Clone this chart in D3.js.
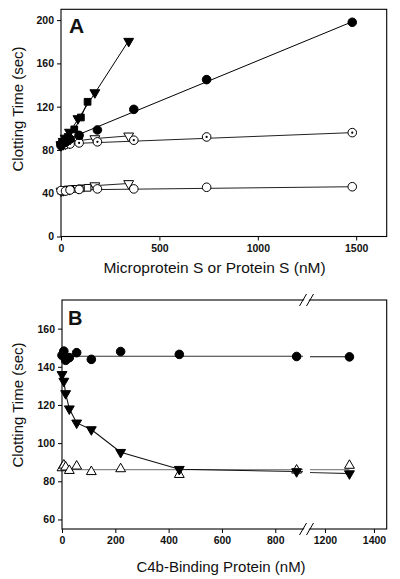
<!DOCTYPE html>
<html><head><meta charset="utf-8">
<script src="https://cdn.jsdelivr.net/npm/d3@7"></script>
<style>body{margin:0;background:#fff} svg{display:block} text{font-family:"Liberation Sans",Arial,sans-serif;fill:#111}</style>
</head><body><svg id="c" width="400" height="579"></svg>
<script>
// ---------- Panel A data ----------
const concPS  = [0, 23, 46, 92, 185, 370, 740, 1480];
const concMPS = [0, 10.75, 21.5, 43, 86, 172, 344];
const concSq  = [17, 34, 67.5, 101, 135];
const aFilledCircle = [84, 87, 90, 93.5, 98.5, 117.5, 145, 198];
const aDotCircle    = [85.5, 85, 85.5, 86.5, 87.5, 89, 92, 96];
const aOpenCircle   = [42.5, 42, 43, 43.5, 44, 44, 45.5, 46];
const aFilledTri    = [85, 88, 91, 96.5, 109, 133, 180.5];
const aOpenTriHigh  = [84, 85, 85.5, 86.5, 88.5, 90.5, 93];
const aOpenTriLow   = [42, 42.5, 43, 43.5, 44.5, 47, 49];
const aFilledSq     = [88, 92, 99, 110, 124.5];
const aOpenSq       = [43, 43.5, 44, 44.5, 45];
// fitted lines (x ends, y ends)
const fitPSx = [0, 1480];
const fitFilledCircle = [87.5, 198.5];
const fitDotCircle    = [85.5, 96];
const fitOpenCircle   = [43, 46];
const fitMPSx = [0, 344];
const fitFilledTri    = [84, 181];
const aYTicks = [0, 40, 80, 120, 160, 200];
const aXTicks = [0, 500, 1000, 1500];

// ---------- Panel B data ----------
const concB = [0, 6.9, 13.75, 27.5, 55, 110, 220, 440, 880, 1300];
const bFilledCircle = [146, 148.2, 143.4, 144.8, 147.4, 143.9, 148, 146.5, 145.4, 145.2];
const bFilledTri    = [136, 132.5, 126, 118, 110.6, 107.1, 95.2, 86.3, 85.1, 84];
const bOpenTri      = [87, 88.4, 87.4, 85.6, 87.9, 85, 86.5, 83.5, 85.8, 88.3];
const bLineCircle   = [145.5, 145.3];       // flat fit, left / right of break
const bLineOpenTri  = [86.1, 86.1];
const bTriTailX     = [880, 904, 1139, 1300];
const bTriTail      = [85.1, 85, 84.6, 84];
const bYTicks = [60, 80, 100, 120, 140, 160];
const bXTicksL = [0, 200, 400, 600, 800];
const bXTicksR = [1200, 1400];

const svg = d3.select("#c");
const FONT = '"Liberation Sans",Arial,sans-serif';
const fmt = d3.format("d");

function symbol(g, type, x, y, opts) {
  const p = d3.symbol().type(type).size(opts.size)();
  g.append("path").attr("d", p)
    .attr("transform", `translate(${x},${y})` + (opts.down ? " rotate(180)" : ""))
    .attr("fill", opts.fill).attr("stroke", "#000").attr("stroke-width", opts.sw || 1);
  if (opts.dot) g.append("circle").attr("cx", x).attr("cy", y).attr("r", 1.1).attr("fill", "#000");
}

function styleAxis(g) {
  g.selectAll("path.domain").remove();
  g.selectAll("line").attr("stroke", "#000");
  g.selectAll("text").style("font-family", FONT).style("font-size", "10.5px").style("font-weight", "bold").attr("fill", "#222");
}

// =============== PANEL A ===============
const A = {l: 61, r: 386.7, t: 9.3, b: 236.5};
const xA = d3.scaleLinear().domain([0, 1655]).range([A.l, A.r]);
const yA = d3.scaleLinear().domain([0, 210]).range([A.b, A.t]);
const gA = svg.append("g");

gA.append("g").attr("transform", `translate(0,${A.b})`)
  .call(d3.axisBottom(xA).tickValues(aXTicks).tickFormat(fmt).tickSize(4).tickPadding(4).tickSizeOuter(0)).call(styleAxis);
gA.append("g").attr("transform", `translate(${A.l},0)`)
  .call(d3.axisLeft(yA).tickValues(aYTicks).tickFormat(fmt).tickSize(4).tickPadding(3).tickSizeOuter(0)).call(styleAxis);
gA.append("rect").attr("x", A.l).attr("y", A.t).attr("width", A.r - A.l).attr("height", A.b - A.t)
  .attr("fill", "none").attr("stroke", "#000").attr("stroke-width", 1.1);

const lineA = d3.line().x(d => xA(d[0])).y(d => yA(d[1]));
function drawLineA(xs, ys, color) {
  gA.append("path").attr("d", lineA(xs.map((x, i) => [x, ys[i]])))
    .attr("fill", "none").attr("stroke", color || "#000").attr("stroke-width", 1);
}
drawLineA(fitPSx, fitOpenCircle, "#222");
drawLineA(concMPS, aOpenTriLow, "#222");
drawLineA(concSq, aOpenSq, "#444");
drawLineA(fitPSx, fitDotCircle, "#222");
drawLineA(concMPS, aOpenTriHigh, "#222");
drawLineA(fitPSx, fitFilledCircle, "#000");
drawLineA(fitMPSx, fitFilledTri, "#000");
drawLineA(concSq, aFilledSq, "#000");

const mA = gA.append("g");
concSq.forEach((x, i) => symbol(mA, d3.symbolSquare, xA(x), yA(aOpenSq[i]), {size: 45, fill: "#fff"}));
concMPS.forEach((x, i) => symbol(mA, d3.symbolTriangle, xA(x), yA(aOpenTriLow[i]), {size: 42, fill: "#fff", down: true}));
concPS.forEach((x, i) => symbol(mA, d3.symbolCircle, xA(x), yA(aOpenCircle[i]), {size: 58, fill: "#fff"}));
concMPS.forEach((x, i) => symbol(mA, d3.symbolTriangle, xA(x), yA(aOpenTriHigh[i]), {size: 42, fill: "#fff", down: true}));
concPS.forEach((x, i) => symbol(mA, d3.symbolCircle, xA(x), yA(aDotCircle[i]), {size: 58, fill: "#fff", dot: true}));
concPS.forEach((x, i) => symbol(mA, d3.symbolCircle, xA(x), yA(aFilledCircle[i]), {size: 58, fill: "#000"}));
concSq.forEach((x, i) => symbol(mA, d3.symbolSquare, xA(x), yA(aFilledSq[i]), {size: 45, fill: "#000"}));
concMPS.forEach((x, i) => symbol(mA, d3.symbolTriangle, xA(x), yA(aFilledTri[i]), {size: 42, fill: "#000", down: true}));

gA.append("text").attr("x", 69).attr("y", 33).text("A")
  .style("font-size", "21px").style("font-weight", "bold").attr("fill", "#000");
gA.append("text").attr("x", 214.5).attr("y", 273).attr("text-anchor", "middle")
  .text("Microprotein S or Protein S (nM)").style("font-size", "15.5px");
gA.append("text").attr("transform", `translate(23,109) rotate(-90)`).attr("text-anchor", "middle")
  .text("Clotting Time (sec)").style("font-size", "15px");

// =============== PANEL B ===============
const B = {l: 62, r: 386.7, t: 300, b: 529};
const xBL = d3.scaleLinear().domain([0, 904]).range([B.l, 303]);
const xBR = d3.scaleLinear().domain([1139, 1452]).range([310, B.r]);
const xB = v => v <= 904 ? xBL(v) : xBR(v);
const yB = d3.scaleLinear().domain([55, 175]).range([B.b, B.t]);
const gB = svg.append("g");

gB.append("g").attr("transform", `translate(0,${B.b})`)
  .call(d3.axisBottom(xBL).tickValues(bXTicksL).tickFormat(fmt).tickSize(4).tickPadding(4).tickSizeOuter(0)).call(styleAxis);
gB.append("g").attr("transform", `translate(0,${B.b})`)
  .call(d3.axisBottom(xBR).tickValues(bXTicksR).tickFormat(fmt).tickSize(4).tickPadding(4).tickSizeOuter(0)).call(styleAxis);
gB.append("g").attr("transform", `translate(${B.l},0)`)
  .call(d3.axisLeft(yB).tickValues(bYTicks).tickFormat(fmt).tickSize(4).tickPadding(3).tickSizeOuter(0)).call(styleAxis);
gB.append("rect").attr("x", B.l).attr("y", B.t).attr("width", B.r - B.l).attr("height", B.b - B.t)
  .attr("fill", "none").attr("stroke", "#000").attr("stroke-width", 1.1);

const lineB = d3.line().x(d => xB(d[0])).y(d => yB(d[1]));
function drawLineB(pts, color, w) {
  gB.append("path").attr("d", lineB(pts)).attr("fill", "none")
    .attr("stroke", color).attr("stroke-width", w || 1);
}
drawLineB([[0, bLineOpenTri[0]], [904, bLineOpenTri[0]]], "#888", 1.2);
drawLineB([[1139, bLineOpenTri[1]], [1300, bLineOpenTri[1]]], "#888", 1.2);
drawLineB([[0, bLineCircle[0]], [904, bLineCircle[0]]], "#333", 1.1);
drawLineB([[1139, bLineCircle[1]], [1300, bLineCircle[1]]], "#111", 1.1);
drawLineB(concB.slice(0, 8).map((x, i) => [x, bFilledTri[i]]).concat(bTriTailX.slice(0, 2).map((x, i) => [x, bTriTail[i]])), "#111", 1.1);
drawLineB(bTriTailX.slice(2).map((x, i) => [x, bTriTail[i + 2]]), "#333", 1.1);

const mB = gB.append("g");
concB.forEach((x, i) => symbol(mB, d3.symbolTriangle, xB(x), yB(bOpenTri[i]), {size: 42, fill: "#fff"}));
concB.forEach((x, i) => symbol(mB, d3.symbolTriangle, xB(x), yB(bFilledTri[i]), {size: 42, fill: "#000", down: true}));
concB.forEach((x, i) => symbol(mB, d3.symbolCircle, xB(x), yB(bFilledCircle[i]), {size: 58, fill: "#000"}));

function breakMark(y) {
  const cx = 306.5;
  gB.append("path").attr("d", `M${cx - 6},${y + 6} L${cx + 1},${y - 6} L${cx + 6},${y - 6} L${cx - 1},${y + 6} Z`)
    .attr("fill", "#fff").attr("stroke", "none");
  [-3.5, 3.5].forEach(o => {
    gB.append("line").attr("x1", cx + o - 3.5).attr("y1", y + 6).attr("x2", cx + o + 3.5).attr("y2", y - 6)
      .attr("stroke", "#000").attr("stroke-width", 1);
  });
}
breakMark(B.t);
breakMark(B.b);

gB.append("text").attr("x", 68).attr("y", 325).text("B")
  .style("font-size", "20px").style("font-weight", "bold").attr("fill", "#000");
gB.append("text").attr("x", 221).attr("y", 572).attr("text-anchor", "middle")
  .text("C4b-Binding Protein (nM)").style("font-size", "15px");
gB.append("text").attr("transform", `translate(23,405) rotate(-90)`).attr("text-anchor", "middle")
  .text("Clotting Time (sec)").style("font-size", "15px");
</script></body></html>
